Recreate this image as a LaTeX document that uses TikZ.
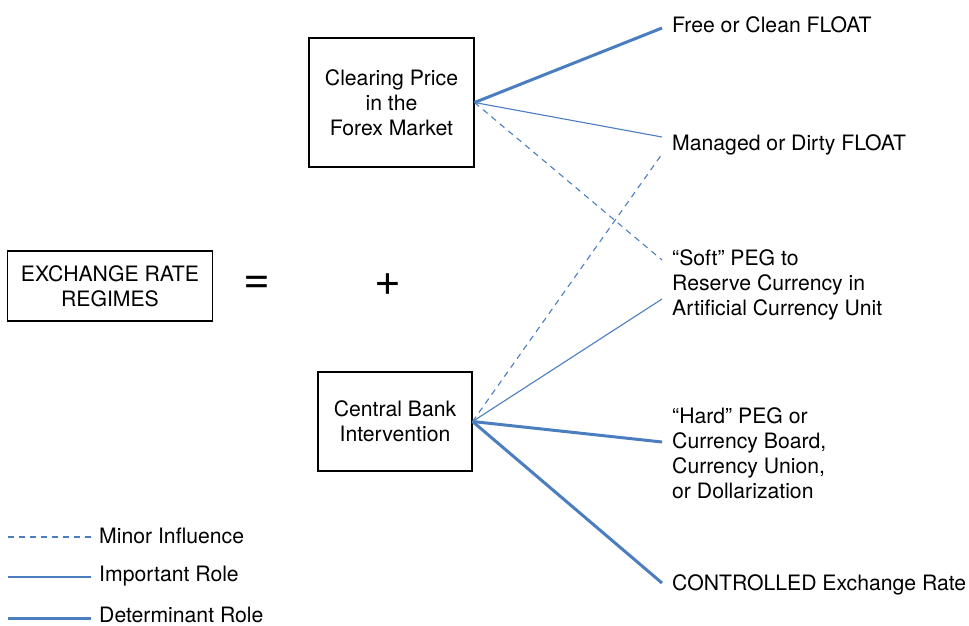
\documentclass[tikz,border=0pt]{standalone}
\usepackage{fontspec}
\setmainfont{TeX Gyre Heros}
\usetikzlibrary{calc, positioning}
\definecolor{linkBlue}{RGB}{74,126,193}
\tikzset{
    regimeBox/.style={rectangle, draw, line width=1.1pt, align=center, inner sep=0pt},
    regimeLabel/.style={anchor=west, align=left, inner sep=0pt},
    opSign/.style={inner sep=0pt, font=\fontsize{46}{46}\selectfont},
    minorLink/.style={linkBlue, line width=1.1pt, dash pattern=on 6pt off 5pt},
    importantLink/.style={linkBlue, line width=1.1pt},
    determinantLink/.style={linkBlue, line width=3pt},
}
\newcommand{\drawLink}[3][importantLink]{
    \draw[#1] (#2) -- (#3);
}
\newcommand{\linkMinor}[2]{\drawLink[minorLink]{#1}{#2}}
\newcommand{\linkImportant}[2]{\drawLink[importantLink]{#1}{#2}}
\newcommand{\linkDeterminant}[2]{\drawLink[determinantLink]{#1}{#2}}

\begin{document}
\begin{tikzpicture}[x=1pt, y=-1pt, font=\fontsize{21.2}{25}\selectfont]
        \useasboundingbox (0,0) rectangle (969,625);

        % left side of the equation
        \node[regimeBox, minimum width=205, minimum height=70] (regimes) at (110,286) {EXCHANGE RATE\\REGIMES};
        \node[opSign] (equals) at (257,285) {=};
        \node[opSign] (plus) at (388,285) {+};
        \node[regimeBox, minimum width=165, minimum height=129] (clearing) at (391.5,102.5) {Clearing Price\\in the\\Forex Market};
        \node[regimeBox, minimum width=154, minimum height=99] (cbi) at (395,421.5) {Central Bank\\Intervention};

        % regimes
        \node[regimeLabel] (free) at (672,24.5) {Free or Clean FLOAT};
        \node[regimeLabel] (managed) at (672,144.5) {Managed or Dirty FLOAT};
        \node[regimeLabel] (soft) at (672,284.5) {``Soft'' PEG to\\Reserve Currency in\\Artificial Currency Unit};
        \node[regimeLabel] (hard) at (672,453) {``Hard'' PEG or\\Currency Board,\\Currency Union,\\or Dollarization};
        \node[regimeLabel] (controlled) at (672,584.5) {CONTROLLED Exchange Rate};

        \coordinate (freeEnd) at (662,28);
        \coordinate (managedEndA) at (662,137);
        \coordinate (managedEndB) at (662,154);
        \coordinate (softEndA) at (662,260);
        \coordinate (softEndB) at (662,299);
        \coordinate (hardEnd) at (662,442);
        \coordinate (controlledEnd) at (662,583);

        \linkDeterminant{clearing.east}{freeEnd}
        \linkImportant{clearing.east}{managedEndA}
        \linkMinor{clearing.east}{softEndA}
        \linkMinor{cbi.east}{managedEndB}
        \linkImportant{cbi.east}{softEndB}
        \linkDeterminant{cbi.east}{hardEnd}
        \linkDeterminant{cbi.east}{controlledEnd}

        % legend
        \node[regimeLabel] (minorKey) at (99,536) {Minor Influence};
        \node[regimeLabel] (importantKey) at (99,576) {Important Role};
        \node[regimeLabel] (determinantKey) at (99,615) {Determinant Role};
        \coordinate (minorStart) at (8,537);
        \coordinate (importantStart) at (8,577);
        \coordinate (determinantStart) at (8,618);
        \linkMinor{minorStart}{$(minorKey.west)+(-8,1)$}
        \linkImportant{importantStart}{$(importantKey.west)+(-8,1)$}
        \linkDeterminant{determinantStart}{$(determinantKey.west)+(-8,3)$}

    \end{tikzpicture}
\end{document}
